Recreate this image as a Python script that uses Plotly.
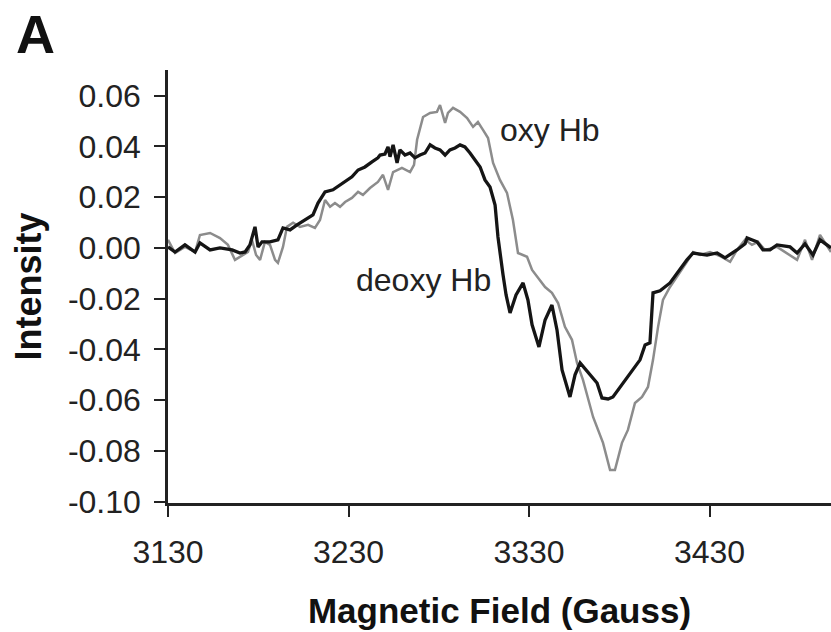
import plotly.graph_objects as go

# Magnetic field (Gauss) and intensity for deoxy Hb (black trace)
deoxy_field = [3130.0, 3133.9, 3139.4, 3145.0, 3147.7, 3153.3, 3158.8, 3165.5, 3169.9, 3172.7,
               3175.4, 3178.2, 3179.9, 3182.1, 3186.5, 3190.9, 3193.7, 3197.6, 3201.5, 3205.9,
               3210.3, 3213.1, 3217.0, 3221.4, 3225.3, 3228.1, 3231.9, 3235.3, 3239.1, 3243.0,
               3246.3, 3247.5, 3250.2, 3251.9, 3253.0, 3254.7, 3256.9, 3258.5, 3261.3, 3264.1,
               3266.8, 3269.6, 3272.4, 3275.2, 3277.9, 3280.7, 3283.5, 3286.2, 3289.0, 3291.8,
               3294.5, 3297.3, 3300.1, 3302.9, 3305.6, 3308.4, 3311.2, 3312.8, 3315.6, 3317.3,
               3319.5, 3322.8, 3326.7, 3329.4, 3331.7, 3335.5, 3338.9, 3342.7, 3345.5, 3348.3,
               3352.7, 3355.5, 3358.3, 3362.7, 3367.7, 3370.4, 3373.8, 3376.5, 3380.4, 3385.9,
               3391.5, 3394.3, 3397.0, 3398.7, 3402.6, 3408.1, 3412.0, 3417.5, 3420.9, 3424.8,
               3428.6, 3434.2, 3438.6, 3445.2, 3449.7, 3450.8, 3456.3, 3459.6, 3463.5, 3467.4,
               3474.6, 3478.5, 3482.9, 3487.3, 3491.2, 3497.3]
deoxy_intensity = [0.0004, -0.0016, 0.0012, -0.0016, 0.0020, -0.0008, 0.0000, -0.0008, -0.0020, -0.0016,
                   0.0012, 0.0083, 0.0004, 0.0024, 0.0024, 0.0032, 0.0079, 0.0071, 0.0091, 0.0110,
                   0.0130, 0.0177, 0.0221, 0.0229, 0.0248, 0.0260, 0.0280, 0.0307, 0.0319, 0.0339,
                   0.0355, 0.0366, 0.0370, 0.0398, 0.0359, 0.0406, 0.0335, 0.0386, 0.0366, 0.0374,
                   0.0355, 0.0366, 0.0374, 0.0406, 0.0394, 0.0386, 0.0366, 0.0386, 0.0394, 0.0406,
                   0.0398, 0.0374, 0.0347, 0.0319, 0.0268, 0.0240, 0.0169, 0.0043, -0.0106, -0.0185,
                   -0.0256, -0.0185, -0.0138, -0.0205, -0.0303, -0.0390, -0.0284, -0.0225, -0.0323, -0.0481,
                   -0.0587, -0.0500, -0.0453, -0.0489, -0.0532, -0.0591, -0.0595, -0.0587, -0.0548, -0.0493,
                   -0.0441, -0.0382, -0.0374, -0.0177, -0.0169, -0.0138, -0.0099, -0.0047, -0.0020, -0.0024,
                   -0.0028, -0.0020, -0.0039, -0.0008, 0.0016, 0.0039, 0.0024, -0.0008, -0.0008, 0.0012,
                   0.0004, -0.0020, 0.0016, -0.0028, 0.0032, 0.0000]

# Magnetic field (Gauss) and intensity for oxy Hb (grey trace)
oxy_field = [3130.0, 3133.9, 3139.4, 3145.0, 3147.7, 3153.3, 3158.8, 3163.2, 3167.1, 3169.9,
             3174.3, 3176.5, 3178.8, 3181.0, 3183.7, 3186.5, 3189.3, 3190.9, 3193.7, 3195.9,
             3199.3, 3203.1, 3207.6, 3211.4, 3214.2, 3217.0, 3219.8, 3222.5, 3225.3, 3228.1,
             3231.9, 3235.3, 3238.0, 3241.9, 3246.3, 3249.1, 3251.9, 3254.7, 3259.6, 3264.1,
             3266.3, 3268.0, 3271.3, 3275.2, 3279.0, 3280.7, 3283.5, 3285.1, 3287.9, 3291.8,
             3295.7, 3299.0, 3301.7, 3304.5, 3307.3, 3310.1, 3313.9, 3317.8, 3321.1, 3323.9,
             3328.9, 3331.7, 3336.1, 3338.9, 3342.7, 3346.1, 3349.9, 3353.8, 3356.6, 3359.9,
             3365.5, 3371.0, 3374.9, 3377.6, 3381.5, 3384.8, 3388.7, 3392.6, 3395.9, 3398.7,
             3401.5, 3404.2, 3408.1, 3412.0, 3417.5, 3420.9, 3424.8, 3430.3, 3435.8, 3441.4,
             3445.2, 3449.7, 3453.5, 3456.9, 3460.7, 3467.4, 3474.6, 3478.5, 3482.9, 3486.8,
             3491.2, 3497.3]
oxy_intensity = [0.0032, -0.0020, 0.0004, -0.0016, 0.0051, 0.0059, 0.0039, 0.0012, -0.0047, -0.0035,
                 -0.0016, 0.0032, -0.0028, -0.0047, 0.0024, 0.0012, -0.0047, -0.0059, 0.0004, 0.0083,
                 0.0099, 0.0083, 0.0091, 0.0079, 0.0110, 0.0189, 0.0162, 0.0177, 0.0162, 0.0181,
                 0.0197, 0.0221, 0.0209, 0.0236, 0.0260, 0.0288, 0.0229, 0.0299, 0.0315, 0.0299,
                 0.0327, 0.0426, 0.0516, 0.0532, 0.0536, 0.0563, 0.0493, 0.0532, 0.0552, 0.0536,
                 0.0512, 0.0477, 0.0496, 0.0465, 0.0433, 0.0335, 0.0268, 0.0217, 0.0110, -0.0020,
                 -0.0035, -0.0087, -0.0126, -0.0154, -0.0177, -0.0217, -0.0311, -0.0362, -0.0453, -0.0520,
                 -0.0666, -0.0768, -0.0875, -0.0875, -0.0768, -0.0717, -0.0611, -0.0587, -0.0548, -0.0441,
                 -0.0311, -0.0205, -0.0154, -0.0114, -0.0055, -0.0016, -0.0028, -0.0016, -0.0032, -0.0055,
                 -0.0008, 0.0032, 0.0012, 0.0024, -0.0008, 0.0004, -0.0028, -0.0047, 0.0032, -0.0047,
                 0.0051, -0.0016]

x_ticks = [3130, 3230, 3330, 3430]
y_ticks = [0.06, 0.04, 0.02, 0.00, -0.02, -0.04, -0.06, -0.08, -0.10]
y_tick_labels = ["0.06", "0.04", "0.02", "0.00", "-0.02", "-0.04", "-0.06", "-0.08", "-0.10"]

FONT = "Liberation Sans, Arial, sans-serif"

fig = go.Figure()
fig.add_trace(go.Scatter(x=oxy_field, y=oxy_intensity, mode="lines", name="oxy Hb",
                         line=dict(color="#8c8c8c", width=2.5)))
fig.add_trace(go.Scatter(x=deoxy_field, y=deoxy_intensity, mode="lines", name="deoxy Hb",
                         line=dict(color="#151515", width=3.3)))

fig.add_annotation(x=3312.8, y=0.0465, xref="x", yref="y", text="oxy Hb", showarrow=False,
                   xanchor="left", yanchor="middle", font=dict(family=FONT, size=32, color="#222222"))
fig.add_annotation(x=3310.1, y=-0.0126, xref="x", yref="y", text="deoxy Hb", showarrow=False,
                   xanchor="right", yanchor="middle", font=dict(family=FONT, size=32, color="#222222"))
fig.add_annotation(x=-154 / 663, y=(503 - 34) / 433, xref="paper", yref="paper", text="<b>A</b>",
                   showarrow=False, xanchor="left", yanchor="middle",
                   font=dict(family=FONT, size=54, color="#111111"))

fig.update_layout(
    width=831, height=632,
    margin=dict(l=168, r=0, t=70, b=129),
    paper_bgcolor="white", plot_bgcolor="white",
    showlegend=False,
    font=dict(family=FONT, size=31, color="#222222"),
)
fig.update_xaxes(
    range=[3130, 3497.3], tickvals=x_ticks, ticks="outside", ticklen=11, tickwidth=2,
    tickcolor="#222222", showline=True, linecolor="#222222", linewidth=2.5,
    showgrid=False, zeroline=False, automargin=False, ticklabelstandoff=8,
    title=dict(text="<b>Magnetic Field (Gauss)</b>", font=dict(family=FONT, size=35, color="#111111"),
               standoff=30),
    tickfont=dict(family=FONT, size=32, color="#222222"),
)
fig.update_yaxes(
    range=[-0.1005, 0.0701], tickvals=y_ticks, ticktext=y_tick_labels, ticks="outside",
    ticklen=11, tickwidth=2, tickcolor="#222222", showline=True, linecolor="#222222", linewidth=2.5,
    showgrid=False, zeroline=False, automargin=False, ticklabelstandoff=7,
    title=dict(text="<b>Intensity</b>", font=dict(family=FONT, size=36, color="#111111"), standoff=16),
    tickfont=dict(family=FONT, size=32, color="#222222"),
)

fig.write_html("out.html")
